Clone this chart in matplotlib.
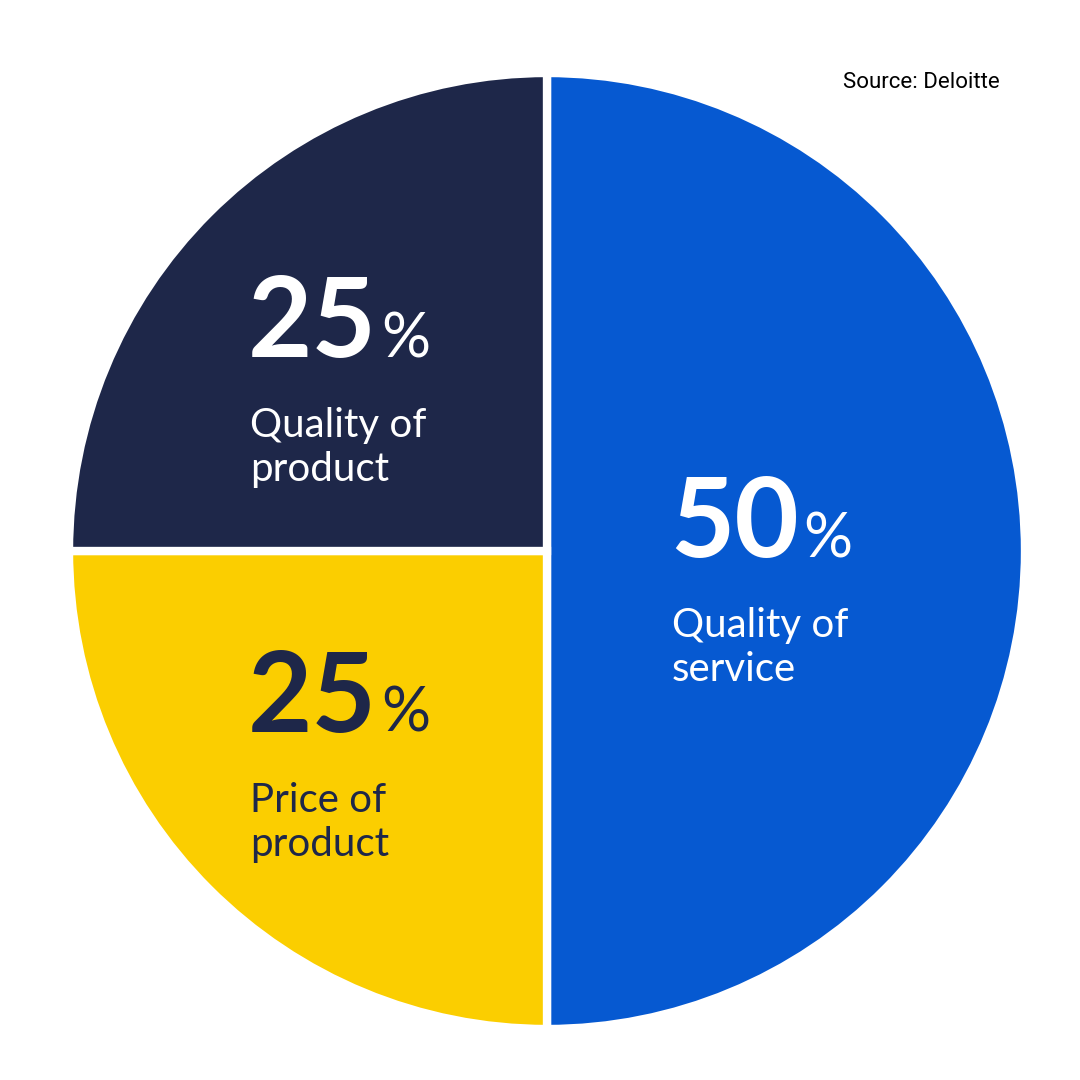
import matplotlib
matplotlib.use("Agg")
import matplotlib.pyplot as plt

labels = ["Quality of\nservice", "Price of\nproduct", "Quality of\nproduct"]
values = [50, 25, 25]
colors = ["#0659D1", "#FBCE00", "#1E2749"]
text_colors = ["white", "#1E2749", "white"]
# anchor positions (pixels, from top-left) for the number labels
anchors = [(670, 557), (248, 732), (248, 357)]

fig = plt.figure(figsize=(10.8, 10.8), dpi=100)
ax = fig.add_axes([0, 0, 1, 1])

ax.pie(values, colors=colors, startangle=90, counterclock=False,
       center=(547, 1080 - 551), radius=478,
       wedgeprops=dict(edgecolor="white", linewidth=6))
ax.set_xlim(0, 1080)
ax.set_ylim(0, 1080)
ax.set_aspect("equal")
ax.axis("off")

fam = ["Lato", "DejaVu Sans"]
for v, lab, tc, (x, y) in zip(values, labels, text_colors, anchors):
    yb = 1080 - y
    t = ax.text(x, yb, f"{v}", fontsize=80, fontweight="bold", color=tc,
                family=fam, ha="left", va="baseline")
    fig.canvas.draw()
    bb = t.get_window_extent()
    xr = ax.transData.inverted().transform((bb.x1, bb.y0))[0]
    ax.text(xr + 4, yb, "%", fontsize=44, color=tc, family=fam,
            ha="left", va="baseline")
    l1, l2 = lab.split("\n")
    ax.text(x + 2, yb - 80, l1, fontsize=29, color=tc, family=fam,
            ha="left", va="baseline")
    ax.text(x + 2, yb - 124, l2, fontsize=29, color=tc, family=fam,
            ha="left", va="baseline")

ax.text(1000, 1080 - 88, "Source: Deloitte", fontsize=16, family="Roboto",
        ha="right", va="baseline", color="black")

fig.savefig("out.png", dpi=100, facecolor="white")
